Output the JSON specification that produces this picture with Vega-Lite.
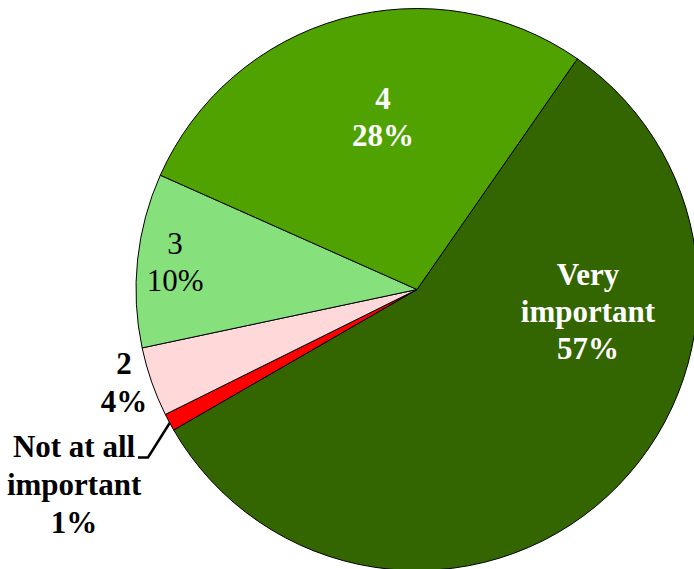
{
  "$schema": "https://vega.github.io/schema/vega-lite/v6.json",
  "autosize": {"type": "none"},
  "width": 554,
  "height": 559,
  "padding": {"left": 140, "top": 10, "right": 0, "bottom": 0},
  "background": "white",
  "config": {"view": {"stroke": null}},
  "datasets": {
    "slices": [
      {"category": "Very important", "value": 57, "rank": 1, "label": "Very\nimportant\n57%"},
      {"category": "Not at all important", "value": 1, "rank": 2, "label": "Not at all\nimportant\n1%"},
      {"category": "2", "value": 4, "rank": 3, "label": "2\n4%"},
      {"category": "3", "value": 10, "rank": 4, "label": "3\n10%"},
      {"category": "4", "value": 28, "rank": 5, "label": "4\n28%"}
    ],
    "leader": [
      {"lx": -247, "ly": -133, "seq": 1},
      {"lx": -269, "ly": -168, "seq": 2},
      {"lx": -279, "ly": -168, "seq": 3}
    ]
  },
  "layer": [
    {
      "data": {"name": "slices"},
      "mark": {"type": "arc", "outerRadius": 281, "stroke": "black", "strokeWidth": 1},
      "encoding": {
        "theta": {"field": "value", "type": "quantitative", "stack": true, "scale": {"range": [0.6074, 6.8906]}},
        "order": {"field": "rank", "type": "quantitative", "sort": "ascending"},
        "color": {
          "field": "category", "type": "nominal", "legend": null,
          "scale": {
            "domain": ["Very important", "Not at all important", "2", "3", "4"],
            "range": ["#336600", "#ff0000", "#ffd9d9", "#86e07c", "#4fa200"]
          }
        }
      }
    },
    {
      "data": {"name": "slices"},
      "mark": {"type": "text", "radius": 172, "dx": 54.6, "dy": -140, "font": "Liberation Serif", "fontWeight": "bold", "fontSize": 31, "lineHeight": 37, "lineBreak": "\n", "color": "white", "align": "center", "baseline": "middle"},
      "encoding": {
        "theta": {"field": "value", "type": "quantitative", "stack": true, "scale": {"range": [0.6074, 6.8906]}},
        "order": {"field": "rank", "type": "quantitative", "sort": "ascending"},
        "text": {"condition": {"test": "datum.category == 'Very important'", "field": "label"}, "value": ""}
      }
    },
    {
      "data": {"name": "slices"},
      "mark": {"type": "text", "radius": 174, "dx": 12.8, "dy": -21.5, "font": "Liberation Serif", "fontWeight": "bold", "fontSize": 31, "lineHeight": 37, "lineBreak": "\n", "color": "white", "align": "center", "baseline": "middle"},
      "encoding": {
        "theta": {"field": "value", "type": "quantitative", "stack": true, "scale": {"range": [0.6074, 6.8906]}},
        "order": {"field": "rank", "type": "quantitative", "sort": "ascending"},
        "text": {"condition": {"test": "datum.category == '4'", "field": "label"}, "value": ""}
      }
    },
    {
      "data": {"name": "slices"},
      "mark": {"type": "text", "radius": 243, "dx": -0.3, "dy": -19.5, "font": "Liberation Serif", "fontWeight": "normal", "fontSize": 31, "lineHeight": 37, "lineBreak": "\n", "color": "black", "align": "center", "baseline": "middle"},
      "encoding": {
        "theta": {"field": "value", "type": "quantitative", "stack": true, "scale": {"range": [0.6074, 6.8906]}},
        "order": {"field": "rank", "type": "quantitative", "sort": "ascending"},
        "text": {"condition": {"test": "datum.category == '3'", "field": "label"}, "value": ""}
      }
    },
    {
      "data": {"name": "slices"},
      "mark": {"type": "text", "radius": 307, "dx": -3, "dy": -25, "font": "Liberation Serif", "fontWeight": "bold", "fontSize": 31, "lineHeight": 38, "lineBreak": "\n", "color": "black", "align": "center", "baseline": "middle"},
      "encoding": {
        "theta": {"field": "value", "type": "quantitative", "stack": true, "scale": {"range": [0.6074, 6.8906]}},
        "order": {"field": "rank", "type": "quantitative", "sort": "ascending"},
        "text": {"condition": {"test": "datum.category == '2'", "field": "label"}, "value": ""}
      }
    },
    {
      "data": {"name": "slices"},
      "mark": {"type": "text", "radius": 395.5, "dx": 5.6, "dy": -28.5, "font": "Liberation Serif", "fontWeight": "bold", "fontSize": 31, "lineHeight": 38, "lineBreak": "\n", "color": "black", "align": "center", "baseline": "middle"},
      "encoding": {
        "theta": {"field": "value", "type": "quantitative", "stack": true, "scale": {"range": [0.6074, 6.8906]}},
        "order": {"field": "rank", "type": "quantitative", "sort": "ascending"},
        "text": {"condition": {"test": "datum.category == 'Not at all important'", "field": "label"}, "value": ""}
      }
    },
    {
      "data": {"name": "leader"},
      "mark": {"type": "line", "color": "black", "strokeWidth": 2.5},
      "encoding": {
        "x": {"field": "lx", "type": "quantitative", "axis": null, "scale": {"domain": [-277, 277], "nice": false, "zero": false}},
        "y": {"field": "ly", "type": "quantitative", "axis": null, "scale": {"domain": [-279.5, 279.5], "nice": false, "zero": false}},
        "order": {"field": "seq", "type": "quantitative"}
      }
    }
  ]
}
